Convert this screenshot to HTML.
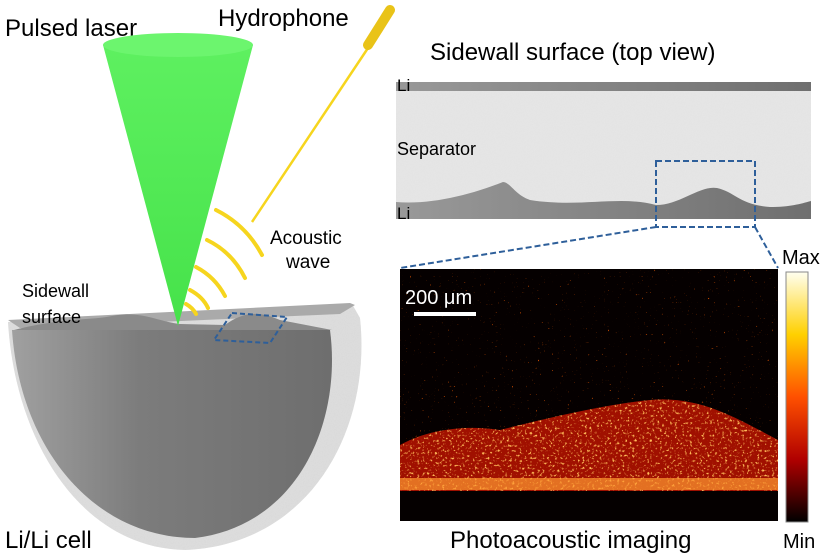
<!DOCTYPE html><html><head><style>body{margin:0;background:#fff}svg{display:block}text{font-family:"Liberation Sans",sans-serif}</style></head><body>
<svg width="825" height="558" viewBox="0 0 825 558" xmlns="http://www.w3.org/2000/svg">
<defs>
<linearGradient id="cone" x1="0" y1="0" x2="0" y2="1"><stop offset="0" stop-color="#5ef060"/><stop offset="1" stop-color="#46e24a"/></linearGradient>
<linearGradient id="body" x1="0" y1="0" x2="1" y2="0"><stop offset="0" stop-color="#a0a0a0"/><stop offset="0.4" stop-color="#7c7c7c"/><stop offset="1" stop-color="#6e6e6e"/></linearGradient>
<linearGradient id="li" x1="0" y1="0" x2="1" y2="0"><stop offset="0" stop-color="#999"/><stop offset="1" stop-color="#6f6f6f"/></linearGradient>
<linearGradient id="cb" x1="0" y1="0" x2="0" y2="1"><stop offset="0" stop-color="#fffff0"/><stop offset="0.25" stop-color="#ffd000"/><stop offset="0.5" stop-color="#ff5000"/><stop offset="0.75" stop-color="#b00000"/><stop offset="1" stop-color="#000"/></linearGradient>
<filter id="noise" x="0" y="0" width="1" height="1"><feTurbulence type="fractalNoise" baseFrequency="0.9" numOctaves="2"/><feColorMatrix type="matrix" values="0 0 0 0 0.75  0 0 0 0 0.75  0 0 0 0 0.75  0 0 0 -1.5 1.2"/></filter>
<filter id="spk" x="0" y="0" width="1" height="1"><feTurbulence type="fractalNoise" baseFrequency="0.5" numOctaves="2" seed="3"/><feColorMatrix type="matrix" values="0 0 0 0 0.85  0 0 0 0 0.1  0 0 0 0 0  0 0 0 10 -7.6"/></filter>
<filter id="hot" x="0" y="0" width="1" height="1"><feTurbulence type="fractalNoise" baseFrequency="0.4" numOctaves="2" seed="7"/><feColorMatrix type="matrix" values="0 0 0 0 1  0 0 0 0 0.5  0 0 0 0 0.1  0 0 0 5 -2.9"/></filter>
<clipPath id="band"><path d="M400 445 C430 428 470 425 500 430 C540 420 600 405 650 400 C700 395 740 420 778 440 L778 492 L400 492Z"/></clipPath>
<clipPath id="disk"><path d="M8 322 L352 304 L360 318 C372 430 310 545 185 550 C80 548 15 440 8 322Z"/></clipPath>
</defs>
<text x="5" y="36" font-size="24">Pulsed laser</text>
<text x="218" y="26" font-size="24">Hydrophone</text>
<path d="M8 322 L352 304 L360 318 C372 430 310 545 185 550 C80 548 15 440 8 322Z" fill="#dadada"/>
<g clip-path="url(#disk)"><rect x="0" y="300" width="370" height="255" fill="#bbb" filter="url(#noise)" opacity="0.6"/></g>
<path d="M8 320 L350 303 L355 305 L340 314 L20 328Z" fill="#aaa"/>
<path d="M12 330 L330 330 C342 420 300 525 195 538 C95 538 20 450 12 330Z" fill="url(#body)"/>
<path d="M14 330 C60 318 95 320 112 316 C140 310 160 322 180 324 L225 325 C245 310 262 312 280 320 L332 330Z" fill="#8a8a8a"/>
<path d="M103 45 L178 326 L253 45Z" fill="url(#cone)"/>
<ellipse cx="178" cy="45" rx="75" ry="12" fill="#6cf56e"/>
<g fill="none" stroke="#f6d51e" stroke-width="4" stroke-linecap="round">
<path d="M186 304 Q193 308 196 314"/>
<path d="M190 290 Q203 297 208 308"/>
<path d="M196 267 Q215 277 225 296"/>
<path d="M207 240 Q232 252 245 278"/>
<path d="M216 210 Q246 225 262 255"/>
</g>
<line x1="252" y1="222" x2="370" y2="45" stroke="#f6d51e" stroke-width="2.5"/>
<line x1="368" y1="45" x2="390" y2="10" stroke="#e9c318" stroke-width="10" stroke-linecap="round"/>
<text x="270" y="244" font-size="19">Acoustic</text>
<text x="286" y="268" font-size="19">wave</text>
<text x="22" y="297" font-size="18">Sidewall</text>
<text x="22" y="323" font-size="18">surface</text>
<path d="M232 313 L287 317 L270 343 L214 340Z" fill="none" stroke="#2e5f9a" stroke-width="2" stroke-dasharray="5,3"/>
<text x="5" y="548" font-size="24">Li/Li cell</text>
<text x="430" y="60" font-size="24">Sidewall surface (top view)</text>
<rect x="396" y="91" width="415" height="128" fill="#e6e6e6"/>
<rect x="396" y="91" width="415" height="128" filter="url(#noise)" opacity="0.5"/>
<rect x="396" y="82" width="415" height="9" fill="url(#li)"/>
<path d="M396 202 C430 205 470 195 503 182 C510 182 515 195 530 200 C580 208 620 195 656 205 C680 205 700 185 717 188 C735 192 740 205 770 207 C790 207 800 204 811 201 L811 219 L396 219Z" fill="url(#li)"/>
<text x="397" y="91" font-size="17">Li</text>
<text x="397" y="219" font-size="17">Li</text>
<text x="397" y="155" font-size="18">Separator</text>
<rect x="656" y="161" width="99" height="66" fill="none" stroke="#2e5f9a" stroke-width="2" stroke-dasharray="6,3"/>
<line x1="656" y1="227" x2="400" y2="268" stroke="#2e5f9a" stroke-width="2" stroke-dasharray="6,3"/>
<line x1="755" y1="227" x2="778" y2="268" stroke="#2e5f9a" stroke-width="2" stroke-dasharray="6,3"/>
<rect x="400" y="269" width="378" height="252" fill="#050000"/>
<rect x="400" y="269" width="378" height="220" filter="url(#spk)"/>
<g clip-path="url(#band)">
<rect x="400" y="390" width="378" height="102" fill="#a01000"/>
<rect x="400" y="390" width="378" height="102" filter="url(#hot)"/>
</g>
<rect x="400" y="478" width="378" height="12" fill="#ff9a30" opacity="0.7"/>
<rect x="400" y="491" width="378" height="30" fill="#050000"/>
<rect x="414" y="312" width="62" height="4" fill="#fff"/>
<text x="405" y="304" font-size="20" fill="#fff">200 μm</text>
<rect x="786" y="272" width="22" height="250" fill="url(#cb)" stroke="#888" stroke-width="1"/>
<text x="782" y="264" font-size="20">Max</text>
<text x="783" y="548" font-size="20">Min</text>
<text x="450" y="548" font-size="24">Photoacoustic imaging</text>
</svg></body></html>
